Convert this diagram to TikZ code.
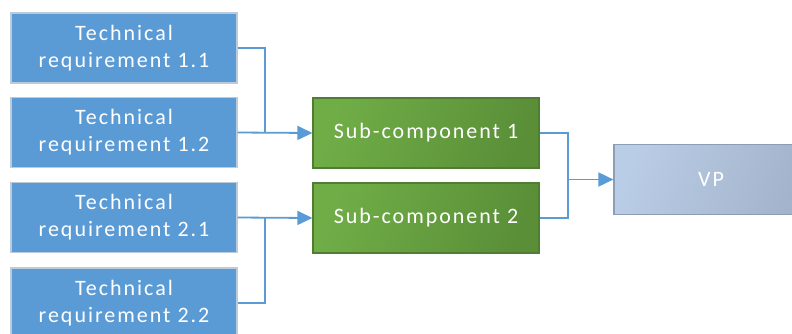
\documentclass[tikz,border=0pt]{standalone}
\usepackage{fontspec}
\setmainfont[LetterSpace=9]{Carlito}
\usetikzlibrary{arrows.meta}
\definecolor{reqblue}{HTML}{5B9BD5}
\definecolor{reqedge}{HTML}{BCCBDA}
\definecolor{subgreen}{HTML}{70AD47}
\definecolor{subdark}{HTML}{5A8F38}
\definecolor{subedge}{HTML}{4F7D31}
\definecolor{vplight}{HTML}{BACDE6}
\definecolor{vpdark}{HTML}{A3B3CB}
\definecolor{vpedge}{HTML}{8C9DB5}
\definecolor{linkblue}{HTML}{5B9BD5}

\begin{document}
\begin{tikzpicture}[
    x=1pt, y=-1pt,
    box/.style={minimum width=226pt, minimum height=70pt, inner sep=0pt,
                align=center, text=white, font=\fontsize{22}{27}\selectfont},
    req/.style={box, fill=reqblue, draw=reqedge, line width=1.2pt},
    sub/.style={box, left color=subgreen, right color=subdark, shading angle=70,
                draw=subedge, line width=1.2pt},
    vp/.style={box, left color=vplight, right color=vpdark, shading angle=70,
               draw=vpedge, line width=1.2pt},
    link/.style={draw=linkblue, line width=1.8pt},
    arr/.style={link, -{Triangle[length=15pt,width=14pt]}},
]
\useasboundingbox (0,0) rectangle (792,333);

% Requirement boxes
\foreach \name/\txt/\ypos in {
  t11/{1.1}/48,
  t12/{1.2}/132.5,
  t21/{2.1}/217.5,
  t22/{2.2}/303
}{
  \node[req] (\name) at (124, \ypos) {Technical\\requirement \txt};
}

% Sub-components and VP
\node[sub] (s1) at (426, 133) {Sub-component 1};
\node[sub] (s2) at (426, 218) {Sub-component 2};
\node[vp, minimum width=194pt] (vp) at (711, 179.5) {VP};

% Junction points
\coordinate (j1) at (265, 133);
\coordinate (j2) at (265, 218);
\coordinate (j3) at (568, 179.5);

% Links
\draw[link] (t11.east) -| (j1);
\draw[arr] (t12.east) -- (s1.west);
\draw[arr] (t21.east) -- (s2.west);
\draw[link] (t22.east) -| (j2);
\draw[link] (s1.east) -| (j3);
\draw[link] (s2.east) -| (j3);
\draw[arr] (j3) -- (vp.west);

\end{tikzpicture}
\end{document}
